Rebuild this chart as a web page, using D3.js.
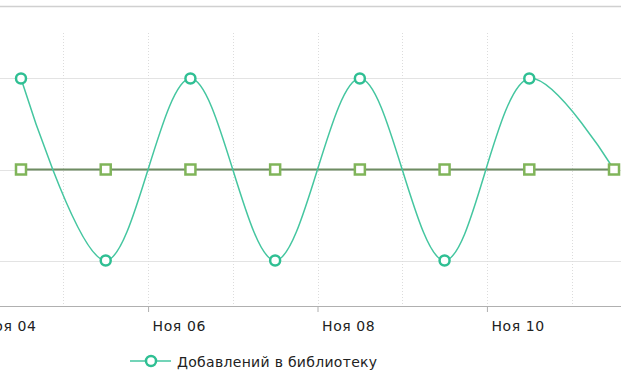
<!DOCTYPE html>
<html>
<head>
<meta charset="utf-8">
<script src="https://cdn.jsdelivr.net/npm/d3@7"></script>
<style>
body{margin:0;background:#fff;font-family:"DejaVu Sans",Verdana,sans-serif}
</style>
</head>
<body>
<div id="grafico"></div>
<script>
// datos
var fechas=["2024-11-04 12:00","2024-11-05 12:00","2024-11-06 12:00","2024-11-07 12:00","2024-11-08 12:00","2024-11-09 12:00","2024-11-10 12:00","2024-11-11 12:00"]
var agregados=[1,-1,1,-1,1,-1,1,0]
var otraSerie=[0,0,0,0,0,0,0,0]
var ticksX=["2024-11-04","2024-11-06","2024-11-08","2024-11-10"]
var nombreSerie="Добавлений в библиотеку"

var ancho=621, alto=376
var parseDate=d3.timeParse("%Y-%m-%d %H:%M")
var parseDia=d3.timeParse("%Y-%m-%d")
var mesesRu=["Янв","Фев","Мар","Апр","Май","Июн","Июл","Авг","Сен","Окт","Ноя","Дек"]

var datos=fechas.map(function(f,i){return {fech:parseDate(f),a:agregados[i],b:otraSerie[i]}})

var svg=d3.select("#grafico").append("svg")
	.attr("width",ancho).attr("height",alto)

var x=d3.scaleTime()
	.domain(d3.extent(datos,d=>d.fech))
	.range([21,614])
var y=d3.scaleLinear()
	.domain([-1.5,1.5])
	.range([306,33])

// borde superior
svg.append("line").attr("x1",0).attr("x2",ancho).attr("y1",6.5).attr("y2",6.5)
	.style("stroke","#d0d0d0").style("stroke-width",1.5)

// rejilla horizontal
svg.selectAll("hgrid").data([-1,0,1]).enter().append("line")
	.attr("x1",0).attr("x2",ancho)
	.attr("y1",d=>Math.round(y(d))+0.5).attr("y2",d=>Math.round(y(d))+0.5)
	.style("stroke","#e3e3e3")

// rejilla vertical punteada (cada dia)
var dias=d3.timeDay.range(parseDia("2024-11-04"),parseDia("2024-11-13"))
svg.selectAll("vgrid").data(dias).enter().append("line")
	.attr("x1",d=>Math.round(x(d))+0.5).attr("x2",d=>Math.round(x(d))+0.5)
	.attr("y1",33).attr("y2",306)
	.style("stroke","#dcdcdc").style("stroke-dasharray","1,2")

// eje x
var ejeX=svg.append("g").attr("transform","translate(0,306)")
	.call(d3.axisBottom(x).tickValues(ticksX.map(t=>parseDia(t))).tickSize(6).tickFormat(""))
ejeX.select(".domain").attr("d","M0,0.5H"+ancho).style("stroke","#b0b0b0")
ejeX.selectAll(".tick line").style("stroke","#b0b0b0")
ejeX.selectAll(".tick").append("text")
	.attr("x",4).attr("y",25)
	.attr("text-anchor","start")
	.style("fill","#222").style("font-size","14px").style("letter-spacing","0.6px")
	.style("font-family","'DejaVu Sans',sans-serif")
	.text(d=>mesesRu[d.getMonth()]+" "+d3.timeFormat("%d")(d))

// linea verde (serie plana)
var linea=function(k,curva){return d3.line().x(d=>x(d.fech)).y(d=>y(d[k])).curve(curva)}
svg.append("path").datum(datos)
	.attr("d",linea("b",d3.curveLinear))
	.style("fill","none").style("stroke","#6e8c62").style("stroke-width",2)

// linea turquesa
svg.append("path").datum(datos)
	.attr("d",linea("a",d3.curveCatmullRom.alpha(0.5)))
	.style("fill","none").style("stroke","#45c6a0").style("stroke-width",1.5)

// marcadores circulares
svg.selectAll("circs").data(datos.slice(0,-1)).enter().append("circle")
	.attr("cx",d=>x(d.fech)).attr("cy",d=>y(d.a)).attr("r",5)
	.style("fill","#fff").style("stroke","#2fbf93").style("stroke-width",2.5)

// marcadores cuadrados
svg.selectAll("cuads").data(datos).enter().append("rect")
	.attr("x",d=>x(d.fech)-5).attr("y",d=>y(d.b)-5).attr("width",10).attr("height",10)
	.style("fill","#fff").style("stroke","#80b55a").style("stroke-width",2.5)

// leyenda
var ley=svg.append("g").attr("transform","translate(130,361)")
ley.append("line").attr("x1",0).attr("x2",41).attr("y1",0).attr("y2",0)
	.style("stroke","#45c6a0").style("stroke-width",1.5)
ley.append("circle").attr("cx",21).attr("cy",0).attr("r",5)
	.style("fill","#fff").style("stroke","#2fbf93").style("stroke-width",2.5)
ley.append("text").attr("x",47).attr("y",5.5)
	.style("fill","#222").style("font-size","14px").style("letter-spacing","0.3px")
	.text(nombreSerie)
</script>
</body>
</html>
